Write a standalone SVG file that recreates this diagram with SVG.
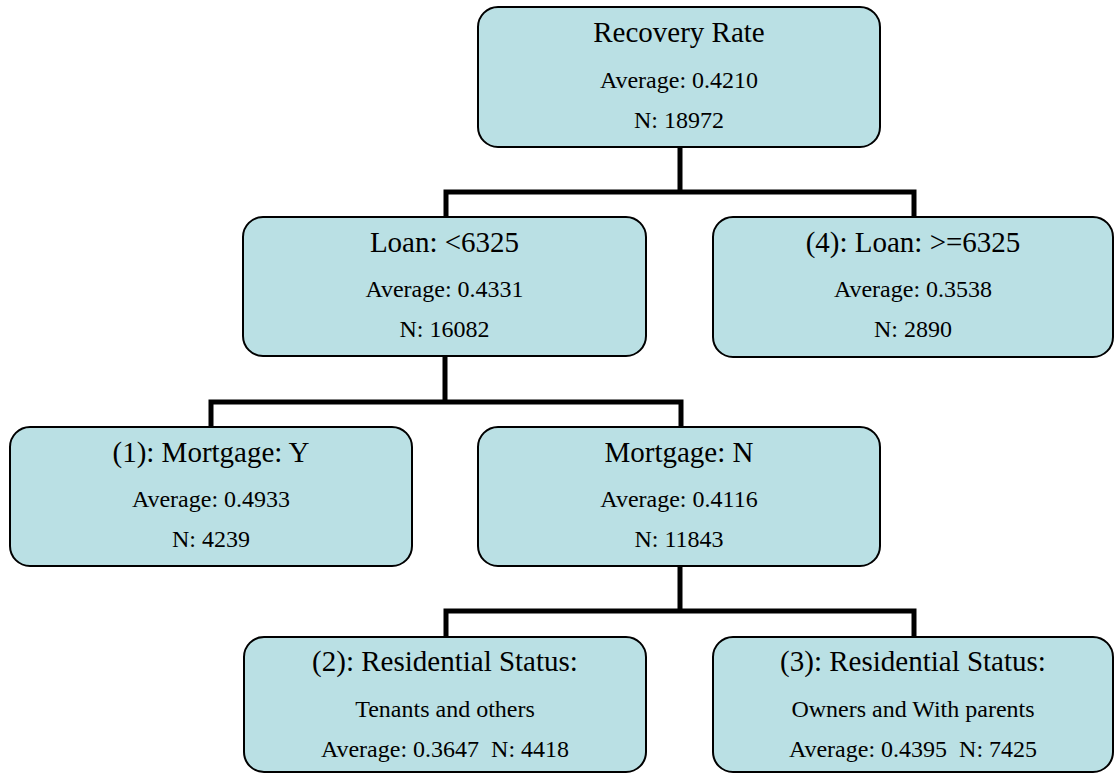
<svg xmlns="http://www.w3.org/2000/svg" width="1116" height="774" viewBox="0 0 1116 774">
<style>
.box{fill:#BAE0E4;stroke:#000;stroke-width:2}
.t{font-family:"Liberation Serif","Times New Roman",serif;font-size:29px;fill:#000;text-anchor:middle}
.s{font-family:"Liberation Serif","Times New Roman",serif;font-size:24px;fill:#000;text-anchor:middle}
.c{fill:none;stroke:#000;stroke-width:5;stroke-linejoin:miter;stroke-linecap:butt}
</style>
<rect width="1116" height="774" fill="#fff"/>
<g id="connectors">
<path class="c" d="M680 147 V192 M446 217 V192 H914 V217"/>
<path class="c" d="M445 356 V402 M211 427 V402 H681 V427"/>
<path class="c" d="M680 566 V611 M446 637 V611 H914 V637"/>
</g>
<g id="root">
<rect class="box" x="478" y="7" width="402" height="140" rx="20"/>
<text class="t" x="679" y="42">Recovery Rate</text>
<text class="s" x="679" y="88">Average: 0.4210</text>
<text class="s" x="679" y="128">N: 18972</text>
</g>
<g id="loan-lt">
<rect class="box" x="243" y="217" width="403" height="139" rx="20"/>
<text class="t" x="444.5" y="252">Loan: &lt;6325</text>
<text class="s" x="444.5" y="297">Average: 0.4331</text>
<text class="s" x="444.5" y="337">N: 16082</text>
</g>
<g id="loan-ge">
<rect class="box" x="713" y="217" width="400" height="140" rx="20"/>
<text class="t" x="913" y="252">(4): Loan: &gt;=6325</text>
<text class="s" x="913" y="297">Average: 0.3538</text>
<text class="s" x="913" y="337">N: 2890</text>
</g>
<g id="mortgage-y">
<rect class="box" x="10" y="427" width="402" height="139" rx="20"/>
<text class="t" x="211" y="462">(1): Mortgage: Y</text>
<text class="s" x="211" y="507">Average: 0.4933</text>
<text class="s" x="211" y="547">N: 4239</text>
</g>
<g id="mortgage-n">
<rect class="box" x="478" y="427" width="402" height="139" rx="20"/>
<text class="t" x="679" y="462">Mortgage: N</text>
<text class="s" x="679" y="507">Average: 0.4116</text>
<text class="s" x="679" y="547">N: 11843</text>
</g>
<g id="res-tenants">
<rect class="box" x="244" y="637" width="402" height="135" rx="20"/>
<text class="t" x="445" y="671">(2): Residential Status:</text>
<text class="s" x="445" y="717">Tenants and others</text>
<text class="s" x="445" y="757" xml:space="preserve">Average: 0.3647  N: 4418</text>
</g>
<g id="res-owners">
<rect class="box" x="713" y="637" width="400" height="135" rx="20"/>
<text class="t" x="913" y="671">(3): Residential Status:</text>
<text class="s" x="913" y="717">Owners and With parents</text>
<text class="s" x="913" y="757" xml:space="preserve">Average: 0.4395  N: 7425</text>
</g>
</svg>
